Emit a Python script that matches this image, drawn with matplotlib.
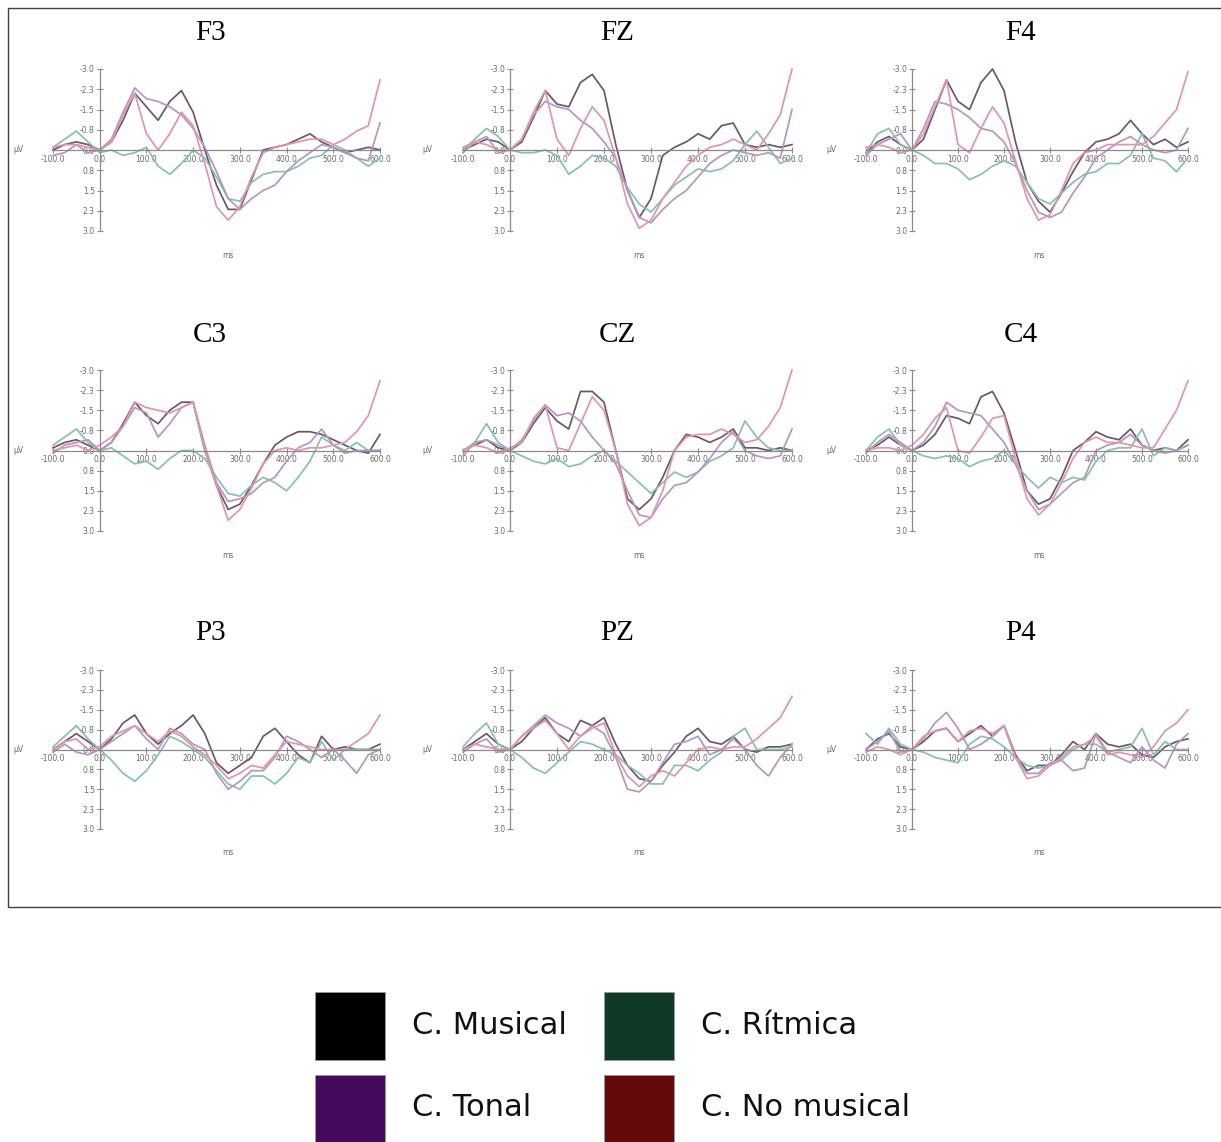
import matplotlib.pyplot as plt
from matplotlib.patches import Rectangle
import numpy as np

times = np.arange(-100, 601, 25)

f3_musical = [0.0, -0.2, -0.3, -0.2, 0.0, -0.3, -1.1, -2.1, -1.6, -1.1, -1.8, -2.2, -1.4, 0.0, 1.3, 2.2, 2.2, 1.1, 0.0, -0.1, -0.2, -0.4, -0.6, -0.3, -0.1, 0.1, 0.0, -0.1, 0.0]
f3_ritmica = [-0.1, -0.4, -0.7, -0.3, 0.1, 0.0, 0.2, 0.1, -0.1, 0.6, 0.9, 0.5, 0.0, 0.3, 1.0, 1.8, 1.9, 1.2, 0.9, 0.8, 0.8, 0.6, 0.3, 0.2, -0.2, 0.0, 0.3, 0.6, 0.3]
f3_tonal = [0.2, 0.1, -0.2, 0.1, 0.0, -0.4, -1.4, -2.3, -1.9, -1.8, -1.6, -1.3, -0.8, -0.1, 0.8, 1.8, 2.2, 1.8, 1.5, 1.3, 0.8, 0.4, 0.1, -0.2, -0.1, 0.1, 0.3, 0.4, -1.0]
f3_nomusical = [-0.1, -0.2, -0.2, -0.1, 0.0, -0.3, -1.3, -2.1, -0.6, 0.0, -0.6, -1.4, -0.9, 0.5, 2.1, 2.6, 2.1, 1.0, 0.1, -0.1, -0.2, -0.3, -0.4, -0.4, -0.2, -0.4, -0.7, -0.9, -2.6]

fz_musical = [0.0, -0.2, -0.4, -0.3, 0.0, -0.3, -1.2, -2.2, -1.7, -1.6, -2.5, -2.8, -2.2, -0.2, 1.5, 2.5, 1.8, 0.2, -0.1, -0.3, -0.6, -0.4, -0.9, -1.0, -0.2, -0.1, -0.2, -0.1, -0.2]
fz_ritmica = [0.0, -0.4, -0.8, -0.5, 0.0, 0.1, 0.1, 0.0, 0.2, 0.9, 0.6, 0.2, 0.3, 0.6, 1.4, 2.0, 2.3, 1.8, 1.3, 1.0, 0.7, 0.8, 0.7, 0.4, -0.2, -0.7, -0.1, 0.5, 0.3]
fz_tonal = [0.1, -0.3, -0.5, 0.1, 0.0, -0.4, -1.3, -1.8, -1.6, -1.5, -1.1, -0.8, -0.3, 0.3, 1.5, 2.5, 2.7, 2.2, 1.8, 1.5, 1.0, 0.5, 0.2, 0.0, 0.1, 0.2, 0.1, 0.3, -1.5]
fz_nomusical = [-0.1, -0.3, -0.2, 0.0, 0.0, -0.4, -1.4, -2.2, -0.4, 0.2, -0.8, -1.6, -1.1, 0.3, 2.0, 2.9, 2.6, 1.8, 1.2, 0.6, 0.2, -0.1, -0.2, -0.4, -0.2, 0.0, -0.6, -1.3, -3.0]

f4_musical = [0.1, -0.3, -0.5, -0.2, 0.0, -0.4, -1.5, -2.6, -1.8, -1.5, -2.5, -3.0, -2.2, -0.3, 1.2, 1.9, 2.3, 1.6, 0.8, 0.1, -0.3, -0.4, -0.6, -1.1, -0.6, -0.2, -0.4, -0.1, -0.3]
f4_ritmica = [0.1, -0.6, -0.8, -0.2, 0.0, 0.2, 0.5, 0.5, 0.7, 1.1, 0.9, 0.6, 0.4, 0.6, 1.2, 1.8, 2.0, 1.6, 1.2, 0.9, 0.8, 0.5, 0.5, 0.2, -0.6, 0.3, 0.4, 0.8, 0.3]
f4_tonal = [0.2, -0.2, -0.4, -0.6, 0.0, -0.8, -1.8, -1.7, -1.5, -1.2, -0.8, -0.7, -0.3, 0.5, 1.5, 2.3, 2.5, 2.3, 1.6, 1.0, 0.3, 0.0, -0.3, -0.5, -0.2, 0.0, 0.1, 0.0, -0.8]
f4_nomusical = [-0.1, -0.2, -0.1, 0.1, 0.0, -0.6, -1.6, -2.6, -0.2, 0.1, -0.8, -1.6, -1.0, 0.4, 1.8, 2.6, 2.4, 1.5, 0.5, 0.1, 0.0, -0.2, -0.2, -0.2, -0.2, -0.5, -1.0, -1.5, -2.9]

c3_musical = [-0.1, -0.3, -0.4, -0.2, 0.0, -0.3, -1.0, -1.8, -1.3, -1.0, -1.5, -1.8, -1.8, 0.0, 1.3, 2.2, 2.0, 1.3, 0.5, -0.2, -0.5, -0.7, -0.7, -0.6, -0.4, -0.2, 0.0, 0.1, -0.6]
c3_ritmica = [-0.2, -0.5, -0.8, -0.3, 0.0, -0.1, 0.2, 0.5, 0.4, 0.7, 0.3, 0.0, 0.0, 0.3, 1.0, 1.6, 1.7, 1.3, 1.0, 1.2, 1.5, 1.0, 0.4, -0.5, -0.2, 0.0, -0.3, 0.0, 0.0]
c3_tonal = [0.1, -0.2, -0.3, -0.4, 0.0, -0.3, -0.9, -1.6, -1.4, -0.5, -1.0, -1.6, -1.8, -0.2, 1.2, 1.9, 1.8, 1.6, 1.2, 1.0, 0.4, -0.1, -0.3, -0.8, -0.2, 0.1, 0.0, 0.0, 0.0]
c3_nomusical = [0.0, -0.1, -0.2, 0.0, -0.2, -0.5, -0.9, -1.8, -1.6, -1.5, -1.4, -1.6, -1.8, 0.0, 1.3, 2.6, 2.2, 1.4, 0.5, 0.0, -0.1, 0.0, -0.1, -0.1, -0.2, -0.3, -0.7, -1.3, -2.6]

cz_musical = [0.0, -0.2, -0.4, -0.1, 0.0, -0.3, -1.0, -1.6, -1.1, -0.8, -2.2, -2.2, -1.8, 0.0, 1.8, 2.2, 1.8, 1.0, 0.0, -0.6, -0.5, -0.3, -0.5, -0.8, -0.1, -0.1, 0.0, -0.1, 0.0]
cz_ritmica = [0.0, -0.3, -1.0, -0.3, 0.0, 0.2, 0.4, 0.5, 0.3, 0.6, 0.5, 0.2, 0.0, 0.4, 0.8, 1.2, 1.6, 1.2, 0.8, 1.0, 0.8, 0.4, 0.2, -0.1, -1.1, -0.5, -0.1, 0.0, 0.0]
cz_tonal = [0.2, -0.3, -0.4, -0.2, 0.0, -0.4, -1.1, -1.7, -1.3, -1.4, -1.1, -0.5, 0.0, 0.5, 1.5, 2.4, 2.5, 1.8, 1.3, 1.2, 0.8, 0.3, -0.3, -0.7, 0.0, 0.2, 0.3, 0.2, -0.8]
cz_nomusical = [0.0, -0.2, -0.1, 0.1, -0.1, -0.3, -1.2, -1.7, -0.1, 0.0, -1.0, -2.0, -1.5, 0.0, 2.0, 2.8, 2.5, 1.5, 0.0, -0.5, -0.6, -0.6, -0.8, -0.6, -0.3, -0.4, -0.9, -1.6, -3.0]

c4_musical = [0.0, -0.2, -0.5, -0.2, 0.0, -0.2, -0.6, -1.3, -1.2, -1.0, -2.0, -2.2, -1.4, 0.0, 1.5, 2.0, 1.8, 1.0, 0.0, -0.3, -0.7, -0.5, -0.4, -0.8, -0.2, 0.0, -0.1, 0.0, -0.4]
c4_ritmica = [0.0, -0.5, -0.8, -0.2, 0.0, 0.2, 0.3, 0.2, 0.3, 0.6, 0.4, 0.3, 0.0, 0.5, 1.0, 1.4, 1.0, 1.2, 1.0, 1.1, 0.4, 0.0, -0.1, -0.1, -0.8, 0.2, -0.1, 0.0, -0.2]
c4_tonal = [0.1, -0.3, -0.6, -0.3, 0.0, -0.3, -0.9, -1.8, -1.5, -1.4, -1.3, -0.8, -0.3, 0.5, 1.5, 2.2, 2.0, 1.6, 1.2, 1.0, 0.0, -0.2, -0.3, -0.6, -0.2, 0.0, 0.1, 0.0, -0.2]
c4_nomusical = [0.0, -0.1, -0.1, 0.0, -0.2, -0.6, -1.2, -1.6, 0.0, 0.1, -0.5, -1.2, -1.3, 0.3, 1.8, 2.4, 2.0, 1.2, 0.3, -0.3, -0.5, -0.3, -0.3, -0.2, -0.1, -0.1, -0.8, -1.5, -2.6]

p3_musical = [0.0, -0.3, -0.6, -0.3, 0.0, -0.4, -1.0, -1.3, -0.6, -0.2, -0.6, -0.9, -1.3, -0.6, 0.5, 0.9, 0.6, 0.3, -0.5, -0.8, -0.3, 0.2, 0.5, -0.5, 0.0, -0.1, 0.0, 0.0, -0.2]
p3_ritmica = [-0.1, -0.5, -0.9, -0.4, 0.0, 0.4, 0.9, 1.2, 0.8, 0.2, -0.5, -0.3, 0.0, 0.3, 0.8, 1.3, 1.5, 1.0, 1.0, 1.3, 0.9, 0.3, 0.5, -0.3, 0.4, 0.0, 0.0, 0.0, 0.0]
p3_tonal = [0.1, -0.2, 0.1, 0.2, 0.0, -0.3, -0.6, -0.9, -0.4, 0.0, -0.8, -0.6, -0.2, 0.0, 0.9, 1.5, 1.2, 0.8, 0.8, 0.3, -0.5, -0.3, 0.0, 0.3, 0.0, 0.4, 0.9, 0.2, 0.0]
p3_nomusical = [0.0, -0.3, -0.4, 0.0, -0.1, -0.5, -0.7, -0.9, -0.6, -0.3, -0.7, -0.5, -0.1, 0.2, 0.6, 1.1, 0.9, 0.6, 0.7, 0.2, -0.3, -0.2, -0.1, 0.0, 0.0, 0.0, -0.3, -0.6, -1.3]

pz_musical = [0.0, -0.3, -0.6, -0.2, 0.0, -0.3, -0.8, -1.2, -0.6, -0.3, -1.1, -0.9, -1.2, -0.2, 0.6, 1.1, 1.2, 0.6, 0.1, -0.5, -0.8, -0.3, -0.2, -0.5, 0.0, 0.1, -0.1, -0.1, -0.2]
pz_ritmica = [-0.1, -0.6, -1.0, -0.2, 0.0, 0.3, 0.7, 0.9, 0.5, 0.1, -0.3, -0.2, 0.0, 0.2, 0.6, 0.9, 1.3, 1.3, 0.6, 0.6, 0.8, 0.4, 0.1, -0.5, -0.8, 0.0, 0.0, 0.0, -0.1]
pz_tonal = [0.1, -0.2, -0.4, 0.1, 0.0, -0.5, -0.9, -1.3, -1.0, -0.8, -0.5, -0.9, -0.6, 0.3, 1.5, 1.6, 1.2, 0.5, -0.2, -0.3, -0.5, 0.2, 0.0, -0.4, 0.0, 0.6, 1.0, 0.3, -0.2]
pz_nomusical = [0.0, -0.2, -0.1, 0.0, 0.0, -0.5, -0.8, -1.1, -0.6, 0.0, -0.5, -0.8, -1.0, 0.2, 1.0, 1.4, 1.0, 0.8, 1.0, 0.5, 0.0, -0.1, 0.0, -0.1, -0.1, -0.4, -0.8, -1.2, -2.0]

p4_musical = [0.0, -0.4, -0.6, -0.1, 0.0, -0.3, -0.7, -0.8, -0.3, -0.6, -0.9, -0.5, -0.9, 0.2, 0.8, 0.6, 0.6, 0.2, -0.3, 0.0, -0.6, -0.2, -0.1, -0.2, 0.2, 0.3, -0.1, -0.3, -0.4]
p4_ritmica = [-0.6, -0.2, -0.8, -0.2, 0.0, 0.1, 0.3, 0.4, 0.5, -0.2, -0.5, -0.4, -0.1, 0.3, 0.6, 0.7, 0.6, 0.4, 0.0, -0.2, -0.2, 0.1, 0.0, -0.1, -0.8, 0.2, -0.3, 0.0, 0.0]
p4_tonal = [0.0, -0.3, -0.7, 0.1, 0.0, -0.4, -1.0, -1.4, -0.8, 0.0, -0.2, -0.5, -0.9, 0.3, 0.9, 0.9, 0.5, 0.4, 0.8, 0.7, -0.6, 0.1, 0.3, 0.5, -0.1, 0.4, 0.7, -0.2, -0.6]
p4_nomusical = [0.1, -0.1, 0.0, 0.2, 0.0, -0.5, -0.7, -0.8, -0.3, -0.7, -0.8, -0.6, -0.9, 0.3, 1.1, 1.0, 0.6, 0.3, -0.1, -0.2, -0.5, 0.2, 0.1, 0.2, 0.3, -0.1, -0.7, -1.0, -1.5]

electrodes = ['F3', 'FZ', 'F4', 'C3', 'CZ', 'C4', 'P3', 'PZ', 'P4']
panel_data = [
    (f3_musical, f3_ritmica, f3_tonal, f3_nomusical),
    (fz_musical, fz_ritmica, fz_tonal, fz_nomusical),
    (f4_musical, f4_ritmica, f4_tonal, f4_nomusical),
    (c3_musical, c3_ritmica, c3_tonal, c3_nomusical),
    (cz_musical, cz_ritmica, cz_tonal, cz_nomusical),
    (c4_musical, c4_ritmica, c4_tonal, c4_nomusical),
    (p3_musical, p3_ritmica, p3_tonal, p3_nomusical),
    (pz_musical, pz_ritmica, pz_tonal, pz_nomusical),
    (p4_musical, p4_ritmica, p4_tonal, p4_nomusical),
]
conditions = ['C. Musical', 'C. Rítmica', 'C. Tonal', 'C. No musical']
legend_colors = ['#000000', '#0f3a28', '#45095e', '#650a0a']
# the traces in the scan look washed out
line_colors = ['#6a5868', '#86c2a8', '#b296c6', '#e096a8']

yticks = [-3.0, -2.25, -1.5, -0.75, 0.0, 0.75, 1.5, 2.25, 3.0]
ytick_labels = ['-3.0', '-2.3', '-1.5', '-0.8', '0.0', '0.8', '1.5', '2.3', '3.0']
xticks = [-100, 0, 100, 200, 300, 400, 500, 600]

W, H = 1221, 1142
fig = plt.figure(figsize=(W / 100, H / 100), dpi=100)

# pixel geometry of the panels
col_px = [(53, 380), (463, 792), (866, 1188)]
row_px = [(69, 231), (370, 531), (670, 829)]
title_x = [210, 617, 1021]
title_y = [33, 335, 633]

# outer frame (right edge runs off the picture)
fig.patches.append(Rectangle((8 / W, 1 - 907 / H), 1.2, (907 - 8) / H,
                             transform=fig.transFigure, fill=False,
                             edgecolor='#404040', linewidth=1.0))

grey = '#8a8a8a'
for i, name in enumerate(electrodes):
    r, c = divmod(i, 3)
    x0, x1 = col_px[c]
    y0, y1 = row_px[r]
    ax = fig.add_axes((x0 / W, 1 - y1 / H, (x1 - x0) / W, (y1 - y0) / H))
    for series, col in zip(panel_data[i], line_colors):
        ax.plot(times, series, color=col, lw=1.25, clip_on=False,
                solid_joinstyle='round')
    ax.set_xlim(-100, 600)
    ax.set_ylim(3.0, -3.0)
    ax.patch.set_visible(False)
    for s in ['top', 'right']:
        ax.spines[s].set_visible(False)
    ax.spines['left'].set_position(('data', 0))
    ax.spines['bottom'].set_position(('data', 0))
    ax.spines['left'].set_bounds(-3.0, 3.0)
    ax.spines['bottom'].set_bounds(-100, 600)
    for s in ['left', 'bottom']:
        ax.spines[s].set_color(grey)
        ax.spines[s].set_linewidth(0.9)
    ax.set_yticks(yticks)
    ax.set_yticklabels(ytick_labels)
    ax.set_xticks(xticks)
    ax.set_xticklabels(['%.1f' % v for v in xticks])
    ax.tick_params(direction='inout', length=5, width=0.8, color=grey,
                   labelsize=5.5, labelcolor='#6a6a6a', pad=1)
    ax.text(-175, 0, 'µV', fontsize=5.5, color='#6a6a6a', ha='center', va='center')
    ax.text(275, 3.9, 'ms', fontsize=5.5, color='#6a6a6a', ha='center', va='center')
    fig.text(title_x[c] / W, 1 - title_y[r] / H, name, family='Liberation Serif',
             fontsize=21, ha='center', va='center')

# legend blocks, 2 x 2
sq_x = [315, 604]
sq_y = [(992, 1060), (1075, 1142)]
txt_x = [412, 701]
for k, (label, col) in enumerate(zip(conditions, legend_colors)):
    rr, cc = divmod(k, 2)
    ya, yb = sq_y[rr]
    fig.patches.append(Rectangle((sq_x[cc] / W, 1 - yb / H), 70 / W, (yb - ya) / H,
                                 transform=fig.transFigure, facecolor=col,
                                 edgecolor='#999999', linewidth=0.6))
    fig.text(txt_x[cc] / W, 1 - ((ya + yb) / 2 - 1) / H, label, fontsize=22,
             family='DejaVu Sans', color='#111111', ha='left', va='center')

fig.savefig('out.png', dpi=100)
